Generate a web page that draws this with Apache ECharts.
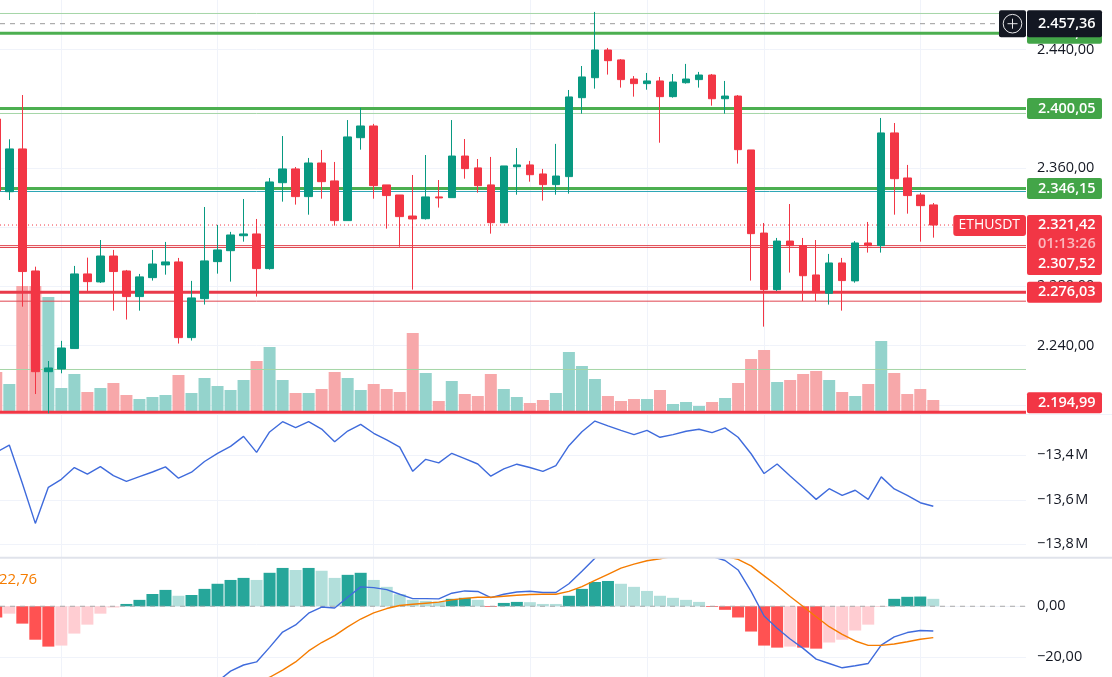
<!DOCTYPE html>
<html><head><meta charset="utf-8">
<style>html,body{margin:0;padding:0;background:#fff}#c{width:1112px;height:677px}</style>
<script src="https://cdn.jsdelivr.net/npm/echarts@6/dist/echarts.min.js"></script>
</head><body><div id="c"></div>
<script>
// first visible candle has bar number -1
const firstBar = -1;
// [open, close, low, high]
const candles = [
[2393.0,2344.4,2343.9,2393.0],[2343.9,2372.8,2338.3,2379.3],[2372.8,2290.0,2266.3,2409.2],[2290.4,2222.4,2207.3,2293.3],
[2222.4,2224.9,2194.3,2229.6],[2224.2,2238.4,2221.3,2243.2],[2238.0,2288.4,2238.0,2293.8],[2288.4,2283.2,2276.5,2299.4],
[2283.0,2300.5,2282.3,2311.3],[2300.5,2290.0,2263.6,2304.6],[2290.4,2273.1,2257.6,2291.1],[2273.1,2286.4,2263.6,2288.4],
[2285.9,2295.1,2283.9,2304.6],[2294.5,2296.5,2287.9,2310.0],[2296.5,2245.4,2241.4,2299.2],[2245.4,2272.2,2243.4,2283.7],
[2271.7,2297.2,2267.7,2333.6],[2296.7,2304.6,2288.6,2321.5],[2304.1,2314.7,2283.2,2316.8],[2314.2,2315.4,2310.2,2339.0],
[2315.4,2292.0,2273.1,2325.5],[2292.0,2350.5,2291.3,2353.2],[2350.0,2359.3,2337.2,2381.5],[2359.3,2340.6,2335.2,2360.6],
[2340.6,2363.3,2328.4,2366.7],[2363.3,2350.7,2339.2,2372.1],[2351.2,2324.4,2321.0,2364.0],[2324.4,2380.9,2324.4,2392.3],
[2380.4,2388.3,2372.3,2400.5],[2388.3,2348.0,2339.2,2389.7],[2348.5,2341.3,2319.0,2348.5],[2341.7,2327.1,2306.8,2341.7],
[2327.5,2325.5,2277.8,2355.2],[2325.7,2340.4,2325.1,2368.7],[2340.4,2339.7,2333.2,2351.8],[2339.9,2368.0,2339.9,2392.3],
[2368.0,2359.5,2352.7,2379.5],[2360.0,2348.0,2343.3,2366.0],[2348.5,2323.0,2315.6,2367.4],[2323.0,2361.3,2323.0,2361.3],
[2360.8,2362.0,2341.9,2373.4],[2362.0,2355.4,2350.7,2364.7],[2355.9,2348.7,2337.9,2359.3],[2348.7,2354.5,2341.9,2376.2],
[2354.1,2407.9,2342.6,2412.6],[2407.4,2421.4,2396.6,2428.8],[2420.9,2439.6,2413.5,2465.3],[2439.6,2432.4,2423.0,2441.0],
[2432.9,2419.6,2414.2,2433.5],[2420.0,2416.9,2408.1,2422.0],[2416.9,2418.7,2412.8,2424.1],[2418.7,2408.1,2377.0,2421.4],
[2408.1,2418.0,2407.4,2423.4],[2417.5,2420.0,2416.9,2430.2],[2419.6,2422.7,2414.2,2424.8],[2422.7,2406.7,2402.0,2423.4],
[2406.7,2408.5,2396.6,2418.7],[2408.5,2372.3,2362.9,2409.2],[2372.1,2315.6,2283.9,2372.1],[2316.0,2277.8,2252.8,2322.8],
[2277.8,2310.6,2276.9,2312.7],[2310.6,2307.5,2289.3,2335.6],[2307.5,2287.2,2270.1,2312.7],[2287.7,2275.8,2270.1,2311.3],
[2275.3,2295.8,2267.7,2301.9],[2295.8,2283.9,2263.6,2299.2],[2283.7,2309.3,2282.5,2310.6],[2309.3,2307.5,2302.8,2323.5],
[2307.5,2383.6,2302.8,2393.7],[2383.6,2352.7,2328.4,2390.3],[2353.2,2341.3,2329.1,2362.0],[2341.7,2334.5,2310.2,2343.1],
[2335.0,2321.42,2312.9,2336.3]
];
const volumes = [40.3,28.3,126.3,126.3,115.3,24.3,38.3,20.3,24.3,29.3,17.3,13.3,15.3,17.3,37.3,19.3,34.3,26.3,22.3,32.3,51.3,65.3,32.3,19.3,19.3,23.3,40.3,34.3,22.3,28.3,23.3,20.3,79.3,39.3,11.3,31.3,18.3,16.3,38.3,23.3,15.3,9.3,12.3,19.3,60.3,46.3,33.3,16.3,11.3,13.3,13.3,22.3,8.3,10.3,6.3,10.3,14.3,29.3,53.3,62.3,30.3,32.3,38.3,41.3,32.3,20.3,16.3,28.3,71.3,39.3,18.3,23.3,12.3];
const obvMillions = [-13.387,-13.354,-13.526,-13.706,-13.544,-13.508,-13.455,-13.485,-13.451,-13.491,-13.517,-13.496,-13.475,-13.452,-13.503,-13.476,-13.428,-13.391,-13.360,-13.315,-13.387,-13.295,-13.249,-13.276,-13.249,-13.282,-13.339,-13.291,-13.261,-13.301,-13.331,-13.363,-13.472,-13.418,-13.434,-13.391,-13.415,-13.439,-13.494,-13.461,-13.440,-13.455,-13.472,-13.446,-13.357,-13.294,-13.246,-13.268,-13.288,-13.307,-13.288,-13.319,-13.307,-13.292,-13.283,-13.298,-13.277,-13.319,-13.393,-13.482,-13.439,-13.493,-13.545,-13.598,-13.550,-13.580,-13.557,-13.598,-13.497,-13.551,-13.580,-13.613,-13.629];
const macdHist = [-4.4,-2.9,-6.8,-13.1,-15.8,-15.4,-10.7,-7.2,-2.9,-0.5,0.9,2.5,4.8,6.4,4.1,4.4,6.8,8.8,10.3,11.1,10.3,13.1,15.0,14.2,15.0,13.9,11.1,12.3,13.1,10.3,7.6,4.7,2.5,2.1,1.8,2.9,3.3,2.5,-0.3,1.3,1.7,1.6,0.9,0.9,4.1,6.8,9.5,9.9,8.8,7.6,6.0,4.1,3.3,2.5,1.7,-0.3,-1.4,-4.4,-9.9,-15.4,-16.2,-15.8,-16.2,-16.6,-14.2,-13.1,-9.5,-7.2,-0.3,2.9,3.7,3.8,2.9];
const macdStart = 16;
const macdLine = [-29.5,-25.4,-23.0,-21.8,-16.1,-10.1,-7.3,-2.7,-0.3,-0.7,3.5,7.6,7.3,6.5,4.7,3.0,3.0,2.9,5.1,6.0,5.8,3.4,4.7,5.6,5.9,5.4,5.4,8.8,13.7,18.8,23.4,27.3,29.3,29.9,29.9,28.6,27.3,23.4,19.5,17.9,14.2,5.8,-3.8,-8.6,-12.8,-16.5,-20.7,-22.4,-24.1,-23.3,-22.4,-15.2,-12.0,-10.3,-9.5,-9.7];
const signalStart = 19;
const signalLine = [-30.2,-27.8,-25.0,-21.8,-17.5,-14.2,-11.5,-8.1,-5.0,-2.6,-0.9,0.3,0.8,1.2,1.6,2.5,3.1,3.5,3.5,3.9,4.3,4.6,4.7,4.7,5.8,7.7,10.1,12.5,14.9,16.5,17.8,18.6,19.5,20.4,20.4,20.1,19.5,18.4,15.8,11.9,8.0,3.8,-0.1,-4.1,-8.0,-11.0,-13.6,-15.3,-15.3,-14.8,-13.9,-12.9,-12.3];
const priceTicks = [2200,2240,2280,2320,2360,2400,2440];
const obvTicks = [-13.8,-13.6,-13.4];
const macdTicks = [-20];
const verticalGridBars = [4,16,28,40,49,58,70];
const levelLines = [
 {p:2464.25,c:'#a5d6a7',w:1,t:'solid'},
 {p:2457.36,c:'#9a9a9a',w:1,t:[5,5]},
 {p:2450.9,c:'#4caf50',w:3,t:'solid'},
 {p:2400.05,c:'#4caf50',w:3,t:'solid'},
 {p:2396.73,c:'#a5d6a7',w:1,t:'solid'},
 {p:2346.15,c:'#4caf50',w:3,t:'solid'},
 {p:2344.06,c:'#2aa5b5',w:1,t:'solid'},
 {p:2321.42,c:'#f23645',w:1,t:[1,3]},
 {p:2307.52,c:'#e0454f',w:1,t:'solid'},
 {p:2306.25,c:'#e0454f',w:1,t:'solid'},
 {p:2276.03,c:'#e83a4a',w:3,t:'solid'},
 {p:2270.0,c:'#e0454f',w:1,t:'solid'},
 {p:2223.87,c:'#a5d6a7',w:1,t:'solid'},
 {p:2194.99,c:'#f23645',w:3,t:'solid'}
];
const pills = [
 {p:2450.9,text:'2.450,90',c:'#43a548',off:0},
 {p:2400.05,text:'2.400,05',c:'#43a548',off:0},
 {p:2346.15,text:'2.346,15',c:'#43a548',off:0},
 {p:2276.03,text:'2.276,03',c:'#f23645',off:0},
 {p:2194.99,text:'2.194,99',c:'#f23645',off:-9.5},
 {p:2457.36,text:'2.457,36',c:'#131722',off:0}
];
const lastPrice = 2321.42, lastPriceText='2.321,42', countdown='01:13:26', nextLevelText='2.307,52', symbol='ETHUSDT';
const legendText='22,76';

const UP='#089981',DOWN='#f23645',VUP='#94d3cc',VDOWN='#f7a8aa';
const HG='#26a69a',HGL='#b2dfdb',HR='#ff5252',HRL='#ffcdd2';
const GRID='#f0f3fa',TXT='#131722',FONT='"Open Sans",sans-serif',FS=14.5;
const pxPerBar=13.014, firstPx=9.3, plotW=1026;
const xMin=-firstPx/pxPerBar, xMax=(plotW-firstPx)/pxPerBar;
const bar=i=>firstBar+i;
const fmt2=v=>{const s=Math.abs(v).toFixed(2).split('.');const t=s[0].replace(/\B(?=(\d{3})+$)/g,'.');return (v<0?'\u2212':'')+t+','+s[1];};

const xAxisBase=g=>({type:'value',gridIndex:g,min:xMin,max:xMax,axisLine:{show:false},
 axisTick:{show:false,customValues:verticalGridBars},axisLabel:{show:false,customValues:verticalGridBars},
 splitLine:{show:true,lineStyle:{color:GRID,width:1}}});
const yAxisBase=(g,min,max,ticks,fmt)=>({type:'value',gridIndex:g,position:'right',min,max,scale:true,
 axisLine:{show:false},axisTick:{show:false,customValues:ticks},
 axisLabel:{customValues:ticks,formatter:fmt,color:TXT,fontFamily:FONT,fontSize:FS,margin:11},
 splitLine:{show:true,lineStyle:{color:GRID,width:1}}});

const option={
 animation:false,backgroundColor:'#fff',
 grid:[
  {left:0,top:0,width:plotW,height:414},
  {left:0,top:415,width:plotW,height:142},
  {left:0,top:559,width:plotW,height:118}
 ],
 xAxis:[xAxisBase(0),xAxisBase(1),xAxisBase(2)],
 yAxis:[
  yAxisBase(0,2193.82,2473.36,priceTicks,v=>fmt2(v)),
  {type:'value',gridIndex:0,min:-1.7,max:412.3,show:false},
  yAxisBase(1,-13.857,-13.2189,obvTicks,v=>'\u2212'+Math.abs(v).toFixed(1).replace('.',',')+'\u200aM'),
  yAxisBase(2,-27.7,18.5,macdTicks.concat([0]),v=>fmt2(v))
 ],
 series:[
  {type:'bar',name:'Volume',xAxisIndex:0,yAxisIndex:1,barWidth:12,z:1,
   data:volumes.map((v,i)=>({value:[bar(i),v],itemStyle:{color:candles[i][1]>=candles[i][0]?VUP:VDOWN}}))},
  ...levelLines.map(l=>({type:'line',name:'level '+l.p,xAxisIndex:0,yAxisIndex:0,showSymbol:false,silent:true,z:3,
   lineStyle:{color:l.c,width:l.w,type:l.t},data:[[xMin,l.p],[xMax,l.p]]})),
  {type:'candlestick',name:'ETHUSDT',xAxisIndex:0,yAxisIndex:0,barWidth:8,z:5,
   itemStyle:{color:UP,color0:DOWN,borderColor:UP,borderColor0:DOWN,borderWidth:1},
   data:candles.map((c,i)=>[bar(i),c[0],c[1],c[2],c[3]])},
  {type:'line',name:'OBV',xAxisIndex:1,yAxisIndex:2,showSymbol:false,
   lineStyle:{color:'#3f6bdc',width:1.4},data:obvMillions.map((v,i)=>[bar(i),v])},
  {type:'bar',name:'Histogram',xAxisIndex:2,yAxisIndex:3,barWidth:12,z:1,
   data:macdHist.map((v,i)=>{const prev=i?macdHist[i-1]:-3.5;
     const col=v>=0?(v>prev?HG:HGL):(v<prev?HR:HRL);
     return {value:[bar(i),v],itemStyle:{color:col}};})},
  {type:'line',name:'Zero',xAxisIndex:2,yAxisIndex:3,showSymbol:false,silent:true,z:2,
   lineStyle:{color:'#a8a8a8',width:1,type:[5,5]},data:[[xMin,0],[xMax,0]]},
  {type:'line',name:'MACD',xAxisIndex:2,yAxisIndex:3,showSymbol:false,z:3,
   lineStyle:{color:'#3f6bdc',width:1.4},data:macdLine.map((v,i)=>[i+macdStart,v])},
  {type:'line',name:'Signal',xAxisIndex:2,yAxisIndex:3,showSymbol:false,z:3,
   lineStyle:{color:'#f57c00',width:1.4},data:signalLine.map((v,i)=>[i+signalStart,v])}
 ]
};
const chart=echarts.init(document.getElementById('c'),null,{renderer:'canvas'});
chart.setOption(option);

const Y=p=>chart.convertToPixel({xAxisIndex:0,yAxisIndex:0},[0,p])[1];
const pillX=1027,pillW=75,pillH=21,textX=1038;
const els=[];
const txt=(x,y,s,fill,z,extra)=>({type:'text',z,x,y,silent:true,style:Object.assign({text:s,fill,font:'600 '+FS+'px '+FONT,textVerticalAlign:'middle'},extra||{})});
els.push({type:'rect',z:40,silent:true,shape:{x:0,y:556.7,width:1112,height:2},style:{fill:'#e0e3eb'}});
els.push({type:'rect',z:40,silent:true,shape:{x:0,y:414,width:1112,height:1},style:{fill:'#f0f3fa'}});
pills.slice(0,-1).forEach(q=>{const cy=Y(q.p)+q.off;
 els.push({type:'rect',z:45,silent:true,shape:{x:pillX,y:cy-pillH/2,width:pillW,height:pillH,r:2},style:{fill:q.c}});
 els.push(txt(textX,cy,q.text,'#fff',45));});
// current price block
const ly=Y(lastPrice);
els.push({type:'rect',z:46,silent:true,shape:{x:pillX,y:ly-10,width:pillW,height:60,r:2},style:{fill:'#f23645'}});
els.push(txt(textX,ly,lastPriceText,'#fff',46));
els.push(txt(textX,ly+18.5,countdown,'rgba(255,255,255,0.65)',46));
els.push(txt(textX,ly+39,nextLevelText,'#fff',46));
els.push({type:'rect',z:46,silent:true,shape:{x:953.3,y:ly-10,width:72.7,height:21,r:3},style:{fill:'#f23645'}});
els.push(txt(958.5,ly,symbol,'#fff',46,{font:'500 14px '+FONT}));
// crosshair-price badge
const bq=pills[pills.length-1],by=Y(bq.p);
els.push({type:'rect',z:47,silent:true,shape:{x:pillX,y:by-13.5,width:pillW,height:27,r:2},style:{fill:bq.c}});
els.push({type:'rect',z:47,silent:true,shape:{x:999,y:by-13.5,width:27,height:27,r:2},style:{fill:bq.c}});
els.push({type:'circle',z:48,silent:true,shape:{cx:1012.5,cy:by,r:9.3},style:{fill:'none',stroke:'#e8e8ea',lineWidth:1}});
els.push({type:'line',z:48,silent:true,shape:{x1:1007.5,y1:by,x2:1017.5,y2:by},style:{stroke:'#e8e8ea',lineWidth:1}});
els.push({type:'line',z:48,silent:true,shape:{x1:1012.5,y1:by-5,x2:1012.5,y2:by+5},style:{stroke:'#e8e8ea',lineWidth:1}});
els.push(txt(textX,by,bq.text,'#fff',48));
// indicator legend, cut by the left edge
els.push(txt(-1,580,legendText,'#f57c00',48,{font:'500 15px '+FONT}));
chart.setOption({graphic:{elements:els}});
</script></body></html>
